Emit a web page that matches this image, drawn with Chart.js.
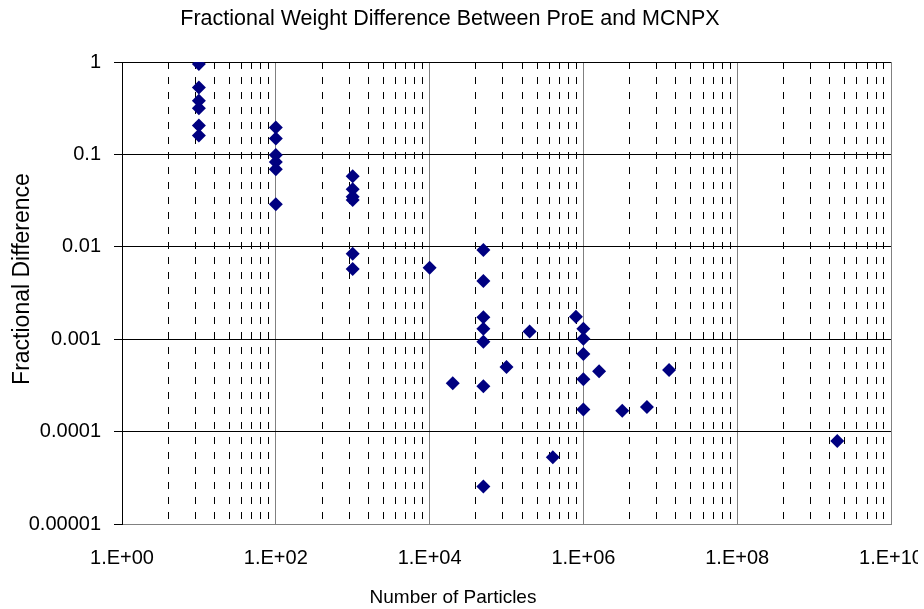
<!DOCTYPE html>
<html>
<head>
<meta charset="utf-8">
<script src="https://cdn.jsdelivr.net/npm/chart.js@4"></script>
<style>
  html, body { margin: 0; padding: 0; background: #fff; overflow: hidden; }
  #wrap { width: 918px; height: 609px; }
</style>
</head>
<body>
<div id="wrap"><canvas id="grafico"></canvas></div>
<script>
// number of particles for each point
const particulas = [
  10, 10, 10, 10, 10, 10,
  100, 100, 100, 100, 100, 100,
  1000, 1000, 1000, 1000, 1000, 1000,
  10000, 20000,
  50000, 50000, 50000, 50000, 50000, 50000, 50000,
  100000, 200000, 400000, 800000,
  1000000, 1000000, 1000000, 1000000, 1000000,
  1600000, 3200000, 6700000, 13000000, 2000000000
];
// fractional difference for each point
const diferencia = [
  0.95, 0.53, 0.38, 0.315, 0.205, 0.16,
  0.196, 0.149, 0.0986, 0.083, 0.069, 0.0288,
  0.058, 0.042, 0.0349, 0.032, 0.0084, 0.00575,
  0.00594, 0.000333,
  0.00923, 0.00427, 0.00173, 0.0013, 0.00094, 0.00031, 0.0000254,
  0.0005, 0.00121, 0.0000527, 0.00175,
  0.0013, 0.00101, 0.00069, 0.000368, 0.000173,
  0.000449, 0.000168, 0.000185, 0.000464, 0.000079
];

const xTicks = [1, 1e2, 1e4, 1e6, 1e8, 1e10];
const xTickLabels = ['1.E+00', '1.E+02', '1.E+04', '1.E+06', '1.E+08', '1.E+10'];
const yTicks = [1e-5, 1e-4, 1e-3, 1e-2, 1e-1, 1];
const yTickLabels = ['0.00001', '0.0001', '0.001', '0.01', '0.1', '1'];

const titulo = 'Fractional Weight Difference Between ProE and MCNPX';
const tituloX = 'Number of Particles';
const tituloY = 'Fractional Difference';

const fuente = "'Liberation Sans', Arial, sans-serif";

let puntos = particulas.map((x, i) => ({ x: x, y: diferencia[i] }));

// excel style log base 100: minor lines at k^2 * 100^n
function ticksX(scale) {
  let lista = [];
  for (let n = 0; n < xTicks.length; n++) {
    lista.push({ value: xTicks[n], major: true });
    if (n < xTicks.length - 1) {
      for (let k = 2; k <= 9; k++) lista.push({ value: k * k * xTicks[n], major: false });
    }
  }
  scale.ticks = lista;
}

// titles placed like the excel original (not centred on the plot)
const titulos = {
  id: 'titulos',
  afterDraw: (chart) => {
    let c = chart.ctx;
    c.save();
    c.fillStyle = '#000';
    c.textAlign = 'center';
    c.textBaseline = 'middle';
    c.font = '21.5px ' + fuente;
    c.fillText(titulo, 450, 19);
    c.font = '19px ' + fuente;
    c.fillText(tituloX, 453, 598);
    c.translate(23, 279);
    c.rotate(-Math.PI / 2);
    c.font = '23px ' + fuente;
    c.fillText(tituloY, 0, 0);
    c.restore();
  }
};

var ctx = document.getElementById('grafico').getContext('2d');
var myChart = new Chart(ctx, {
  type: 'scatter',
  data: {
    datasets: [{
      label: 'Fractional Difference',
      data: puntos,
      pointStyle: 'rectRot',
      pointRadius: 7,
      pointHoverRadius: 7,
      backgroundColor: '#000080',
      borderColor: '#000080',
      borderWidth: 0
    }]
  },
  plugins: [titulos],
  options: {
    responsive: true,
    maintainAspectRatio: false,
    animation: false,
    layout: { padding: { top: 62 } },
    plugins: {
      legend: { display: false },
      tooltip: { enabled: false },
      title: { display: false }
    },
    scales: {
      x: {
        type: 'logarithmic',
        min: 1,
        max: 1e10,
        afterBuildTicks: ticksX,
        afterFit: (scale) => {
          scale.height = 85;
          scale.paddingRight = 27;
        },
        ticks: {
          autoSkip: false,
          maxRotation: 0,
          padding: 22,
          color: '#000',
          font: { family: fuente, size: 20 },
          callback: function (value, index, ticks) {
            let i = xTicks.indexOf(ticks[index].value);
            return i >= 0 ? xTickLabels[i] : '';
          }
        },
        grid: {
          drawTicks: false,
          color: (c) => (c.tick && c.tick.major ? '#808080' : '#000'),
          lineWidth: 1
        },
        border: {
          color: '#808080',
          dash: (c) => (c.tick && !c.tick.major ? [7, 8] : [])
        }
      },
      y: {
        type: 'logarithmic',
        min: 1e-5,
        max: 1,
        afterBuildTicks: (scale) => {
          scale.ticks = yTicks.map((v) => ({ value: v, major: true }));
        },
        afterFit: (scale) => {
          scale.width = 122;
        },
        ticks: {
          autoSkip: false,
          padding: 13,
          color: '#000',
          font: { family: fuente, size: 20 },
          callback: function (value, index, ticks) {
            let i = yTicks.indexOf(ticks[index].value);
            return i >= 0 ? yTickLabels[i] : '';
          }
        },
        grid: {
          color: '#000',
          lineWidth: 1,
          tickLength: 8,
          tickColor: '#000'
        },
        border: { color: '#000' }
      }
    }
  }
});
</script>
</body>
</html>
